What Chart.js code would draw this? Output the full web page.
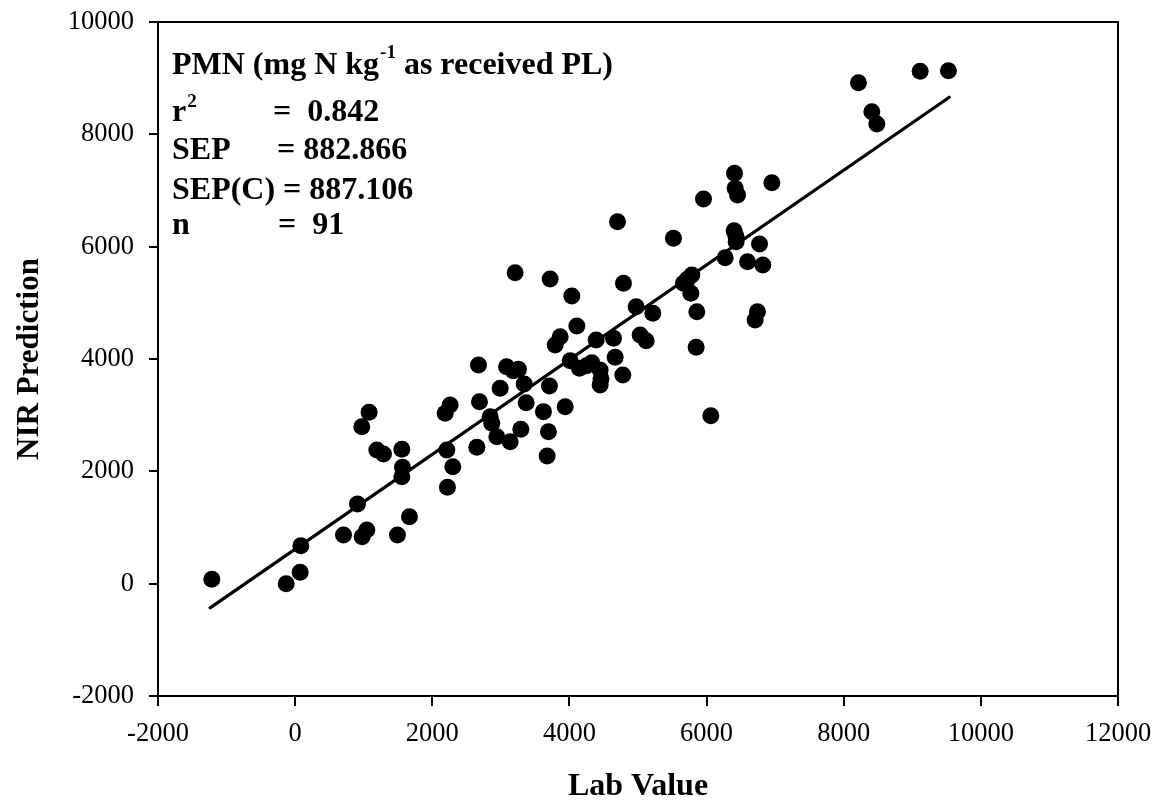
<!DOCTYPE html>
<html>
<head>
<meta charset="utf-8">
<script src="https://cdn.jsdelivr.net/npm/chart.js@4/dist/chart.umd.min.js"></script>
<style>
  html, body { margin: 0; padding: 0; background: #fff; }
  #wrap { width: 1156px; height: 809px; }
</style>
</head>
<body>
<div id="wrap"><canvas id="myChart" width="1156" height="809"></canvas></div>
<script>
// Valeurs
const labValue = [
  -1215, -131, 73, 83, 705, 909, 977, 1045, 972, 1079,
  1191, 1288, 1492, 1556, 1565, 1556, 1667, 2221, 2299, 2212,
  2188, 2260, 2650, 2688, 2674, 2844, 2868, 2941, 2990, 3083,
  3136, 3257, 3208, 3291, 3340, 3369, 3621, 3675, 3694, 3709,
  3719, 3792, 3865, 3938, 4011, 4035, 4108, 4146, 4327, 4390,
  4448, 4448, 4643, 4667, 4701, 4779, 4788, 4973, 5031, 5119,
  5216, 5517, 5663, 5785, 5771, 5858, 5848, 5955, 6062, 6271,
  6402, 6431, 6408, 6417, 6451, 6597, 6772, 6820, 6742, 6708,
  6952, 8215, 8410, 8483, 9115, 9527, 4250, 4460, 3180, 5720, 6430
];
const nirPrediction = [
  78, 0, 203, 677, 867, 1419, 837, 956, 2795, 3051,
  2380, 2309, 867, 1905, 2072, 2393, 1193, 1716, 2083, 2380,
  3034, 3181, 2428, 3240, 3893, 2973, 2856, 2617, 3478, 3863,
  2528, 3816, 5537, 2749, 3555, 3222, 3063, 2273, 2706, 3520,
  5425, 4250, 4397, 3151, 3970, 5122, 4588, 3835, 3935, 4339,
  3804, 3537, 4369, 4030, 6445, 3716, 5348, 4932, 4428, 4326,
  4814, 6149, 5348, 5496, 5170, 4843, 4209, 6849, 2991, 5804,
  6285, 6089, 7306, 7039, 6920, 5733, 6048, 5674, 4843, 4695,
  7139, 8920, 8403, 8184, 9125, 9133, 3880, 3650, 3790, 5420, 6180
];
// Droite de régression (extrémités)
const fitX = [-1240, 9540];
const fitY = [-430, 8660];

const xTicks = [-2000, 0, 2000, 4000, 6000, 8000, 10000, 12000];
const yTicks = [-2000, 0, 2000, 4000, 6000, 8000, 10000];

const serif = "'Liberation Serif', 'Times New Roman', serif";

// Cadre + texte des statistiques
const boxAndNotes = {
  id: 'boxAndNotes',
  afterDraw(chart) {
    const c = chart.ctx;
    const a = chart.chartArea;
    c.save();
    c.strokeStyle = '#000';
    c.lineWidth = 2;
    c.strokeRect(a.left, a.top, a.right - a.left, a.bottom - a.top);

    c.fillStyle = '#000';
    c.textBaseline = 'alphabetic';
    c.textAlign = 'left';
    const big = 'bold 32px ' + serif;
    const sup = 'bold 19px ' + serif;

    // ligne 1
    c.font = big;
    let x = 172;
    c.fillText('PMN (mg N kg', x, 74);
    x += c.measureText('PMN (mg N kg').width;
    c.font = sup;
    c.fillText('-1', x + 1, 58);
    x += c.measureText('-1').width + 1;
    c.font = big;
    c.fillText(' as received PL)', x, 74);

    // ligne 2
    c.fillText('r', 172, 121);
    const rw = c.measureText('r').width;
    c.font = sup;
    c.fillText('2', 172 + rw + 1, 107);
    c.font = big;
    c.fillText('=  0.842', 273, 121);

    // lignes 3-5
    c.fillText('SEP', 172, 159);
    c.fillText('= 882.866', 277, 159);
    c.fillText('SEP(C) = 887.106', 172, 199);
    c.fillText('n', 172, 234);
    c.fillText('=  91', 278, 234);
    c.restore();
  }
};

const ctx = document.getElementById('myChart').getContext('2d');

const data = {
  datasets: [
    {
      type: 'scatter',
      data: labValue.map((v, i) => ({ x: v, y: nirPrediction[i] })),
      backgroundColor: '#000',
      borderWidth: 0,
      pointRadius: 8.5,
      order: 1
    },
    {
      type: 'line',
      data: fitX.map((v, i) => ({ x: v, y: fitY[i] })),
      borderColor: '#000',
      borderWidth: 3.2,
      borderCapStyle: 'round',
      pointRadius: 0,
      fill: false,
      order: 2
    }
  ]
};

const options = {
  responsive: false,
  animation: false,
  layout: { padding: { top: 22, right: 38, left: 0, bottom: 0 } },
  plugins: { legend: { display: false }, tooltip: { enabled: false } },
  scales: {
    x: {
      type: 'linear',
      min: -2000,
      max: 12000,
      afterBuildTicks: s => { s.ticks = xTicks.map(v => ({ value: v })); },
      afterFit: s => { s.height = 113; s.paddingLeft = 0; s.paddingRight = 0; },
      grid: { drawOnChartArea: false, drawTicks: true, tickLength: 10, color: '#000', lineWidth: 2 },
      border: { display: true, color: '#000', width: 2 },
      ticks: { color: '#000', font: { family: serif, size: 26.5 }, padding: 12, maxRotation: 0, callback: v => String(v) },
      title: { display: true, text: 'Lab Value', color: '#000', font: { family: serif, size: 32, weight: 'bold' }, padding: { bottom: 3 } }
    },
    y: {
      type: 'linear',
      min: -2000,
      max: 10000,
      afterBuildTicks: s => { s.ticks = yTicks.map(v => ({ value: v })); },
      afterFit: s => { s.width = 158; s.paddingTop = 0; s.paddingBottom = 0; },
      grid: { drawOnChartArea: false, drawTicks: true, tickLength: 9, color: '#000', lineWidth: 2 },
      border: { display: true, color: '#000', width: 2 },
      ticks: { color: '#000', font: { family: serif, size: 26.5 }, padding: 15, callback: v => String(v) },
      title: { display: true, text: 'NIR Prediction', color: '#000', font: { family: serif, size: 31, weight: 'bold' }, padding: { top: 11 } }
    }
  }
};

const myChart = new Chart(ctx, {
  type: 'scatter',
  data: data,
  options: options,
  plugins: [boxAndNotes]
});
</script>
</body>
</html>
